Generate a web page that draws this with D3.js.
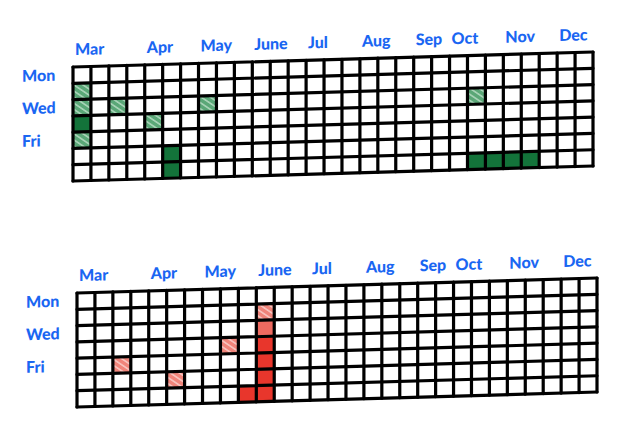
<!DOCTYPE html>
<html>
<head>
<meta charset="utf-8">
<script src="https://cdn.jsdelivr.net/npm/d3@7"></script>
<style>
  html, body { margin: 0; padding: 0; background: #fff; }
  svg { display: block; }
</style>
</head>
<body>
<script>
// ---------- data ----------
const weeks = ["w1","w2","w3","w4","w5","w6","w7","w8","w9","w10","w11","w12","w13","w14","w15","w16","w17","w18","w19","w20","w21","w22","w23","w24","w25","w26","w27","w28","w29"];
const days = ["Mon","Tue","Wed","Thu","Fri","Sat","Sun"];
const dayLabels = ["Mon","Wed","Fri"];
const months = ["Mar","Apr","May","June","Jul","Aug","Sep","Oct","Nov","Dec"];
const monthWeek = [0,4,7,10,13,16,19,21,24,27];

// top calendar (green)
const greenWeek  = [0,0,0,0,2,4,5,5,7,22,22,23,24,25];
const greenDay   = [1,2,3,4,2,3,5,6,2,2,6,6,6,6];
const greenLevel = [1,1,3,1,1,1,3,3,1,1,3,3,3,3];

// bottom calendar (red)
const redWeek  = [2,5,8,10,10,10,10,10,10,9];
const redDay   = [4,5,3,1,2,3,4,5,6,6];
const redLevel = [1,1,1,1,2,3,3,3,3,3];

// ---------- drawing ----------
const W = 643, H = 447;
const svg = d3.select("body").append("svg").attr("width", W).attr("height", H);
svg.append("rect").attr("width", W).attr("height", H).attr("fill", "#fff");

const defs = svg.append("defs");
function hatch(id, base, streak) {
  const p = defs.append("pattern").attr("id", id).attr("patternUnits", "userSpaceOnUse")
    .attr("width", 5).attr("height", 5).attr("patternTransform", "rotate(-55)");
  p.append("rect").attr("width", 5).attr("height", 5).attr("fill", base);
  p.append("rect").attr("width", 1.6).attr("height", 5).attr("fill", streak);
}
hatch("gLight", "#5aa777", "#a9d4b8");
hatch("rLight", "#f0847a", "#f8c4bf");

const BLUE = "#1a66f2";
const gridW = 520, gridH = 114;

function drawCalendar(tx, ty, wk, dy, lv, colors) {
  const g = svg.append("g").attr("transform", `translate(${tx},${ty}) skewY(-1.65)`);
  const x = d3.scaleBand().domain(weeks).range([0, gridW]).padding(0);
  const y = d3.scaleBand().domain(days).range([0, gridH]).padding(0);

  // cells
  const cells = wk.map((w, i) => ({ w: weeks[w], d: days[dy[i]], l: lv[i] }));
  g.selectAll("rect.cell").data(cells).enter().append("rect")
    .attr("class", "cell")
    .attr("x", d => x(d.w) + 0.5)
    .attr("y", d => y(d.d) + 0.5)
    .attr("width", x.bandwidth() - 1)
    .attr("height", y.bandwidth() - 1)
    .attr("fill", d => colors[d.l]);

  // grid lines
  const xs = weeks.map(w => x(w)).concat([x.range()[1]]);
  const ys = days.map(d => y(d)).concat([y.range()[1]]);
  g.selectAll("line.v").data(xs).enter().append("line")
    .attr("x1", d => d).attr("x2", d => d)
    .attr("y1", 0).attr("y2", gridH)
    .attr("stroke", "#000").attr("stroke-width", 3.2).attr("stroke-linecap", "round");
  g.selectAll("line.h").data(ys).enter().append("line")
    .attr("x1", 0).attr("x2", gridW)
    .attr("y1", d => d).attr("y2", d => d)
    .attr("stroke", "#000").attr("stroke-width", 3.2).attr("stroke-linecap", "round");

  // month labels
  g.selectAll("text.m").data(months).enter().append("text")
    .attr("x", (d, i) => x(weeks[monthWeek[i]]) + 2)
    .attr("y", -16)
    .attr("dominant-baseline", "middle")
    .attr("font-family", "Lato, 'Open Sans', sans-serif")
    .attr("font-weight", 900)
    .attr("font-size", 16)
    .attr("fill", BLUE)
    .text(d => d);

  // day labels
  g.selectAll("text.d").data(dayLabels).enter().append("text")
    .attr("x", -51)
    .attr("y", d => y(d) + y.bandwidth() / 2 + 1)
    .attr("dominant-baseline", "middle")
    .attr("font-family", "Lato, 'Open Sans', sans-serif")
    .attr("font-weight", 900)
    .attr("font-size", 16)
    .attr("fill", BLUE)
    .text(d => d);
}

drawCalendar(73, 67, greenWeek, greenDay, greenLevel,
  { 1: "url(#gLight)", 2: "#2f8a52", 3: "#13733a" });
drawCalendar(77, 293, redWeek, redDay, redLevel,
  { 1: "url(#rLight)", 2: "#ee6a60", 3: "#e8362c" });
</script>
</body>
</html>
